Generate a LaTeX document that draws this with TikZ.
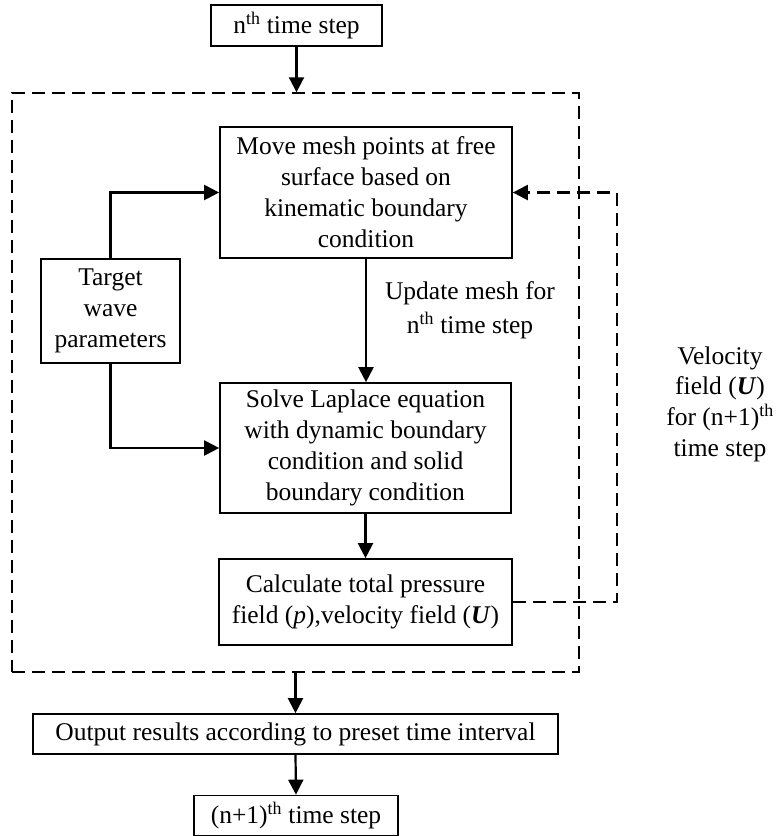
\documentclass[tikz,border=0pt]{standalone}
\usepackage{fontspec}
\setmainfont{Liberation Serif}
\usetikzlibrary{arrows.meta}
\begin{document}
\begin{tikzpicture}[x=1pt,y=-1pt,
  every node/.style={font=\fontsize{25.5}{31}\selectfont},
  box/.style={draw,line width=1.7pt,rectangle,inner sep=0pt,align=center},
  conn/.style={line width=2.2pt,-{Triangle[length=15pt,width=15pt]}},
  fb/.style={line width=2.2pt,dash pattern=on 13pt off 7pt,-{Triangle[length=15pt,width=15pt]}},
  loopbox/.style={draw,line width=1.5pt,dash pattern=on 13pt off 7pt,rectangle,inner sep=0pt}]
\useasboundingbox (0,0) rectangle (777,836);
\node[box,minimum width=171pt,minimum height=41pt] (top) at (296.5,25.5) {n\textsuperscript{th} time step};
\node[loopbox,minimum width=567pt,minimum height=579pt] (loop) at (295.5,382.5) {};
\node[box,minimum width=292pt,minimum height=131pt] (b1) at (366,192.5)
  {Move mesh points at free\\surface based on\\kinematic boundary\\condition};
\node[box,minimum width=139pt,minimum height=104pt] (tgt) at (110.5,311)
  {Target\\wave\\parameters};
\node[box,minimum width=291pt,minimum height=130pt] (b2) at (365.5,448)
  {Solve Laplace equation\\with dynamic boundary\\condition and solid\\boundary condition};
\node[box,minimum width=293pt,minimum height=86pt] (b3) at (365.5,602)
  {Calculate total pressure\\field (\textit{p}),velocity field (\textbf{\textit{U}})};
\node[align=center,font=\fontsize{25.5}{34}\selectfont] (upd) at (470,310)
  {Update mesh for\\n\textsuperscript{th} time step};
\node[align=center,font=\fontsize{25.5}{30.7}\selectfont] (vel) at (720,404)
  {Velocity\\field (\textbf{\textit{U}})\\for (n+1)\textsuperscript{th}\\time step};
\node[box,minimum width=525pt,minimum height=40pt] (out) at (295.5,734)
  {Output results according to preset time interval};
\node[box,minimum width=204pt,minimum height=40pt] (fin) at (296,815.5)
  {(n+1)\textsuperscript{th} time step};
\draw[conn] (top.south) -- (top.south |- loop.north);
\draw[conn] (tgt.north) |- (b1.west);
\draw[conn] (tgt.south) |- (b2.west);
\draw[conn] (b1.south) -- (b1.south |- b2.north);
\draw[conn] (b2.south) -- (b2.south |- b3.north);
\draw[fb] (b3.east) -- ++(104,0) |- (b1.east);
\draw[conn] (out.north |- loop.south) -- (out.north);
\draw[conn] (out.south) -- (fin.north);
\end{tikzpicture}
\end{document}
